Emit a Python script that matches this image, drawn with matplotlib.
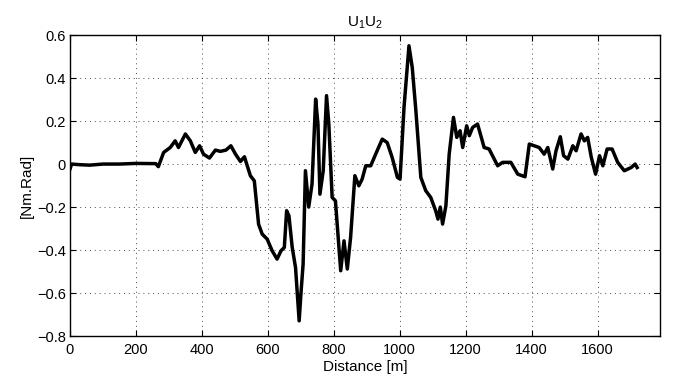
import matplotlib
matplotlib.use('Agg')
import matplotlib.pyplot as plt

plt.rcParams['font.family'] = ['Liberation Sans', 'DejaVu Sans']
plt.rcParams['mathtext.default'] = 'regular'

# distance [m] and torque-like signal [Nm.Rad]
distance = [0, 5, 30, 60, 100, 150, 200, 260, 268, 284, 304, 319, 329, 350, 365, 380, 393, 405,
            423, 441, 456, 473, 488, 502, 517, 529, 547, 559, 572, 583, 598, 613, 628, 640, 650,
            657, 664, 674, 684, 695, 701, 707, 714, 724, 734, 745, 752, 758, 768, 778, 785, 795,
            805, 821, 831, 841, 851, 864, 876, 886, 897, 912, 927, 947, 962, 977, 993, 1001,
            1013, 1028, 1038, 1049, 1064, 1079, 1094, 1109, 1116, 1123, 1130, 1140, 1150, 1163,
            1173, 1183, 1191, 1203, 1211, 1221, 1236, 1246, 1256, 1271, 1297, 1312, 1337, 1358,
            1380, 1393, 1408, 1423, 1438, 1449, 1464, 1474, 1487, 1497, 1510, 1525, 1535, 1550,
            1560, 1570, 1581, 1594, 1606, 1616, 1629, 1644, 1661, 1681, 1702, 1714, 1720]
u1u2 = [-0.023, 0.0, -0.003, -0.005, 0.0, 0.0, 0.003, 0.002, -0.012, 0.054, 0.077, 0.108, 0.077,
        0.14, 0.108, 0.054, 0.085, 0.046, 0.028, 0.065, 0.059, 0.065, 0.085, 0.046, 0.012, 0.034,
        -0.054, -0.078, -0.28, -0.326, -0.349, -0.403, -0.442, -0.403, -0.388, -0.217, -0.24,
        -0.388, -0.481, -0.729, -0.589, -0.465, -0.031, -0.2, -0.093, 0.302, 0.186, -0.14,
        -0.031, 0.318, 0.186, -0.155, -0.171, -0.496, -0.357, -0.488, -0.341, -0.054, -0.101,
        -0.07, -0.008, -0.008, 0.046, 0.116, 0.1, 0.031, -0.062, -0.07, 0.263, 0.55, 0.449,
        0.248, -0.062, -0.124, -0.155, -0.217, -0.256, -0.2, -0.279, -0.194, 0.046, 0.217,
        0.124, 0.155, 0.077, 0.178, 0.132, 0.17, 0.186, 0.132, 0.077, 0.07, -0.008, 0.008,
        0.008, -0.047, -0.059, 0.093, 0.085, 0.077, 0.046, 0.077, -0.023, 0.062, 0.127, 0.039,
        0.023, 0.085, 0.062, 0.14, 0.108, 0.124, 0.031, -0.047, 0.039, -0.008, 0.07, 0.07,
        0.008, -0.031, -0.016, 0.0, -0.016]

x_ticks = [0, 200, 400, 600, 800, 1000, 1200, 1400, 1600]
y_ticks = [-0.8, -0.6, -0.4, -0.2, 0, 0.2, 0.4, 0.6]

fig = plt.figure(figsize=(6.73, 3.85), dpi=100)
ax = fig.add_axes([0.104, 0.127, 0.877, 0.782])

ax.plot(distance, u1u2, color='black', linewidth=2.5)

ax.set_xlim(0, 1790)
ax.set_ylim(-0.8, 0.6)
ax.set_xticks(x_ticks)
ax.set_yticks(y_ticks)
ax.set_yticklabels(['\u22120.8', '\u22120.6', '\u22120.4', '\u22120.2', '0', '0.2', '0.4', '0.6'])
ax.grid(True, linestyle=(0, (1, 4)), color='black', linewidth=0.7, alpha=0.7)
ax.tick_params(direction='in', top=True, right=True, labelsize=10.5, length=4)
ax.tick_params(axis='x', pad=5)
ax.tick_params(axis='y', pad=3)
for s in ax.spines.values():
    s.set_linewidth(1.0)

ax.set_title('U$_1$U$_2$', fontsize=11)
ax.set_xlabel('Distance [m]', fontsize=11, labelpad=2)
ax.set_ylabel('[Nm.Rad]', fontsize=11, labelpad=2)

fig.savefig('out.png', dpi=100)
